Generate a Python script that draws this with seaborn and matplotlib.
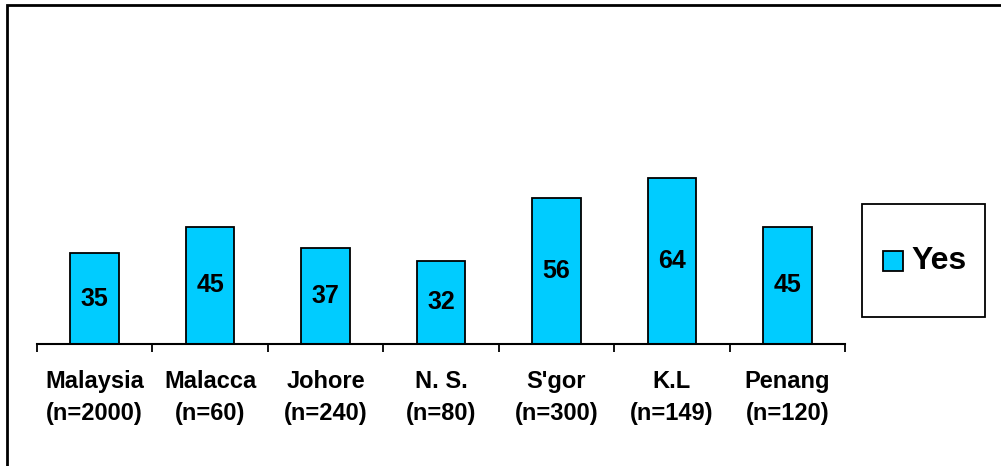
import matplotlib
matplotlib.use("Agg")
import matplotlib.pyplot as plt
from matplotlib.patches import Rectangle
import seaborn as sns
import pandas as pd
import numpy as np

regions = ["Malaysia", "Malacca", "Johore", "N. S.", "S'gor", "K.L", "Penang"]
sample_sizes = [2000, 60, 240, 80, 300, 149, 120]
yes_pct = [35, 45, 37, 32, 56, 64, 45]
series_name = "Yes"

sns.set_theme(style="white")
plt.rcParams["font.family"] = ["Liberation Sans", "DejaVu Sans"]
plt.rcParams["font.weight"] = "bold"

W, H = 1001, 466
fig = plt.figure(figsize=(W / 100, H / 100), dpi=100)
ax = fig.add_axes([37 / W, 1 - 344 / H, 808 / W, 260 / H])

labels = [f"{r}\n(n={n})" for r, n in zip(regions, sample_sizes)]
df = pd.DataFrame({"label": labels, "value": yes_pct, "series": series_name})

sns.barplot(data=df, x="label", y="value", hue="series", palette=["#00CCFF"],
            width=0.42, edgecolor="black", linewidth=1.3, saturation=1,
            legend=False, ax=ax)

for i, v in enumerate(yes_pct):
    ax.text(i, v / 2, str(v), ha="center", va="center", fontsize=18,
            fontweight="bold", color="black")

ax.set_xlim(-0.5, len(regions) - 0.5)
ax.set_ylim(0, 100)
ax.set_xlabel("")
ax.set_ylabel("")
ax.set_yticks([])
for s in ["left", "right", "top"]:
    ax.spines[s].set_visible(False)
ax.spines["bottom"].set_color("black")
ax.spines["bottom"].set_linewidth(1.5)

ax.set_xticks(np.arange(len(regions)))
ax.set_xticklabels(labels, fontsize=17, fontweight="bold", linespacing=1.5)
ax.set_xticks(np.arange(len(regions) + 1) - 0.5, minor=True)
ax.tick_params(axis="x", which="major", length=0, pad=19, colors="black")
ax.tick_params(axis="x", which="minor", length=6, width=1.3, color="black",
               direction="out", bottom=True)

# legend box
fig.patches.append(Rectangle((862 / W, 1 - 317 / H), 123 / W, 113 / H,
                             transform=fig.transFigure, fill=False,
                             edgecolor="black", linewidth=1.3))
fig.patches.append(Rectangle((883 / W, 1 - 271 / H), 20 / W, 20 / H,
                             transform=fig.transFigure, facecolor="#00CCFF",
                             edgecolor="black", linewidth=1.3))
fig.text(911 / W, 1 - 261 / H, series_name, ha="left", va="center",
         fontsize=23, fontweight="bold", color="black")

# outer frame
fig.patches.append(Rectangle((7 / W, -0.1), 1.2, 1.1 - 5.5 / H,
                             transform=fig.transFigure, fill=False,
                             edgecolor="black", linewidth=2.0))

fig.savefig("out.png", dpi=100)
